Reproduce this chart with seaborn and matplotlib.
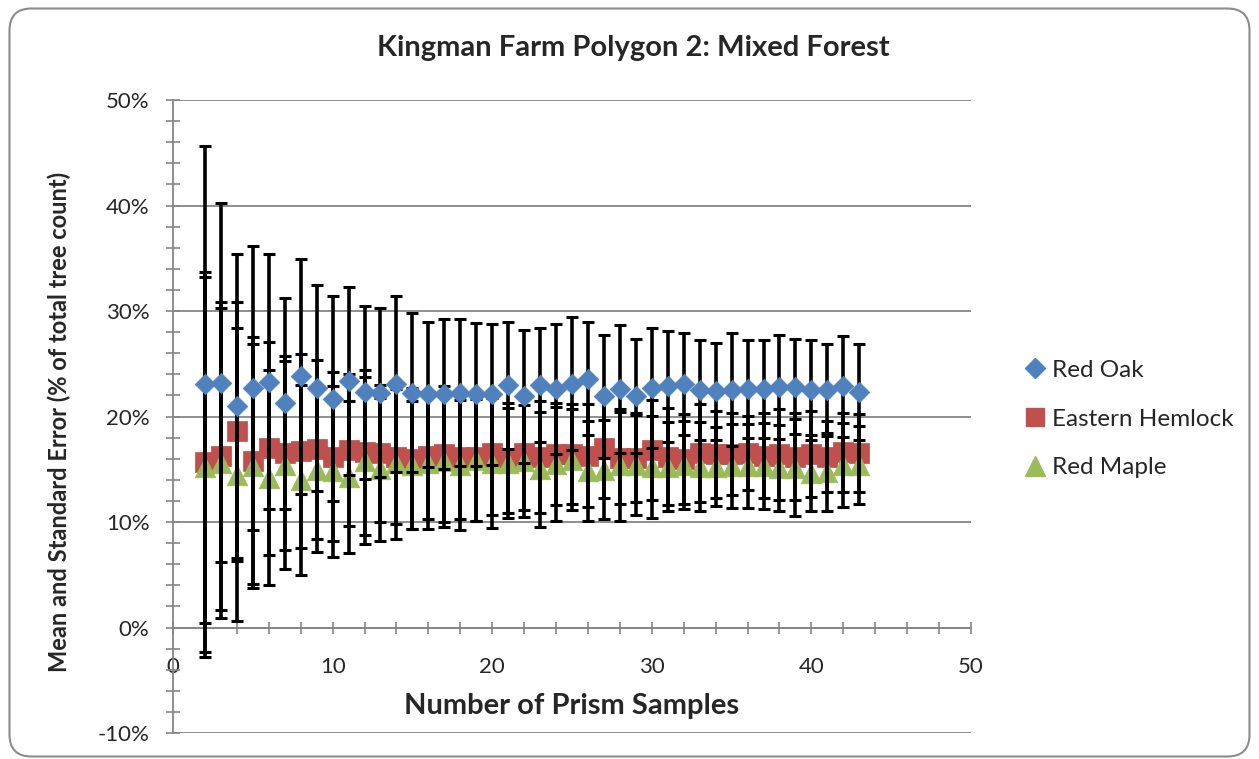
import matplotlib
matplotlib.use("Agg")
import matplotlib.pyplot as plt
import seaborn as sns
from matplotlib.lines import Line2D
from matplotlib.patches import FancyBboxPatch
from matplotlib.transforms import IdentityTransform
from matplotlib.ticker import MultipleLocator, FuncFormatter

# number of prism samples (x)
samples = list(range(2, 44))

# means and standard errors, in % of total tree count
oak_mean = [23.05, 23.2, 21.0, 22.7, 23.3, 21.25, 23.8, 22.7, 21.7, 23.4, 22.3,
            22.25, 23.05, 22.25, 22.1, 22.1, 22.25, 22.1, 22.1, 22.95, 21.9,
            22.95, 22.6, 23.1, 23.6, 21.9, 22.6, 21.9, 22.7, 22.85, 23.05,
            22.5, 22.4, 22.55, 22.6, 22.6, 22.8, 22.8, 22.5, 22.5, 22.85, 22.3]
oak_err = [22.6, 17.0, 14.4, 13.5, 12.1, 10.0, 11.1, 9.8, 9.7, 8.9, 8.2,
           8.0, 8.35, 7.55, 6.9, 7.1, 6.95, 6.8, 6.7, 6.05, 6.3,
           5.4, 6.15, 6.3, 5.4, 5.8, 6.1, 5.4, 5.65, 5.25, 4.85,
           4.75, 4.6, 5.35, 4.65, 4.65, 4.9, 4.5, 4.75, 4.35, 4.75, 4.55]

hemlock_mean = [15.7, 16.3, 18.6, 15.8, 17.0, 16.5, 16.7, 16.9, 16.2, 16.8, 16.6,
                16.5, 16.2, 16.0, 16.3, 16.45, 16.2, 16.2, 16.55, 16.1, 16.5,
                16.2, 16.45, 16.45, 16.3, 17.0, 16.1, 16.1, 16.8, 16.2, 16.0,
                16.5, 16.4, 16.45, 16.55, 16.3, 16.4, 16.2, 16.45, 16.2, 16.6, 16.55]
hemlock_err = [18.0, 14.6, 12.3, 11.7, 10.1, 9.2, 9.2, 8.5, 8.0, 7.2, 7.8,
               6.5, 6.4, 6.7, 6.05, 6.45, 5.9, 6.1, 5.85, 5.2, 5.35,
               5.3, 4.85, 4.7, 4.9, 4.7, 4.35, 4.25, 4.75, 4.6, 4.25,
               4.65, 4.15, 3.85, 3.5, 4.05, 4.35, 4.15, 4.05, 3.4, 3.75, 3.7]

maple_mean = [15.2, 15.6, 14.5, 15.3, 14.2, 15.4, 14.0, 14.9, 14.8, 14.3, 15.8,
              15.0, 15.6, 15.4, 15.6, 15.75, 15.4, 15.9, 15.6, 15.6, 15.8,
              15.0, 15.5, 15.9, 14.85, 14.95, 15.4, 15.4, 15.2, 15.25, 15.4,
              15.25, 15.25, 15.3, 15.3, 15.3, 15.1, 15.15, 14.65, 14.75, 15.4, 15.4]
maple_err = [18.0, 14.7, 13.9, 11.6, 10.2, 9.9, 9.0, 7.7, 8.1, 7.2, 7.9,
             6.8, 7.25, 6.1, 6.3, 6.2, 6.2, 5.8, 6.2, 5.25, 5.3,
             5.45, 5.4, 4.8, 4.75, 4.7, 5.3, 4.75, 4.85, 4.2, 4.2,
             4.25, 3.75, 3.95, 3.95, 4.1, 4.05, 4.6, 3.6, 3.7, 4.0, 3.7]

species = ["Red Oak", "Eastern Hemlock", "Red Maple"]
colors = {"Red Oak": "#4F81BD", "Eastern Hemlock": "#C0504D", "Red Maple": "#9BBB59"}

sns.set_style("white")
plt.rcParams['font.family'] = ['Lato', 'DejaVu Sans']

fig = plt.figure(figsize=(12.59, 7.59), dpi=100)
ax = fig.add_axes([173 / 1259, 26 / 759, 798 / 1259, 633 / 759])

grey = "#868686"

# markers below the error bars for hemlock and maple, oak on top
sns.scatterplot(x=samples, y=hemlock_mean, marker="s", s=200, color=colors["Eastern Hemlock"],
                edgecolor=colors["Eastern Hemlock"], linewidth=0.5, zorder=2, ax=ax, legend=False)
sns.scatterplot(x=samples, y=maple_mean, marker="^", s=220, color=colors["Red Maple"],
                edgecolor=colors["Red Maple"], linewidth=0.5, zorder=2.5, ax=ax, legend=False)

for m, e in [(oak_mean, oak_err), (hemlock_mean, hemlock_err), (maple_mean, maple_err)]:
    ax.errorbar(samples, m, yerr=e, fmt="none", ecolor="black", elinewidth=2.6,
                capsize=4.3, capthick=2.2, zorder=3)

sns.scatterplot(x=samples, y=oak_mean, marker="D", s=110, color=colors["Red Oak"],
                edgecolor=colors["Red Oak"], linewidth=0.5, zorder=4, ax=ax, legend=False)

ax.set_xlim(0, 50)
ax.set_ylim(-10, 50)

ax.xaxis.set_major_locator(MultipleLocator(10))
ax.xaxis.set_minor_locator(MultipleLocator(2))
ax.yaxis.set_major_locator(MultipleLocator(10))
ax.yaxis.set_minor_locator(MultipleLocator(2))
ax.yaxis.set_major_formatter(FuncFormatter(lambda v, p: f"{v:.0f}%"))

ax.grid(axis="y", which="major", color=grey, lw=1.3, zorder=0)
ax.grid(axis="x", visible=False)
ax.set_axisbelow(True)

ax.spines["top"].set_visible(False)
ax.spines["right"].set_visible(False)
ax.spines["bottom"].set_position(("data", 0))
for sp in ["left", "bottom"]:
    ax.spines[sp].set_color(grey)
    ax.spines[sp].set_linewidth(1.3)

ax.tick_params(axis="y", which="both", direction="inout", length=10, width=1.2,
               color=grey, left=True)
ax.tick_params(axis="y", which="major", pad=12, labelsize=16)
ax.tick_params(axis="x", which="both", direction="inout", length=8, width=1.2,
               color=grey, bottom=True)
ax.tick_params(axis="x", which="major", pad=17, labelsize=16)

ax.set_xlabel("Number of Prism Samples", fontsize=21, fontweight="bold")
ax.xaxis.label.set_va("baseline")
ax.xaxis.set_label_coords(0.5, (733 - 714) / 633)
ax.set_ylabel("Mean and Standard Error (% of total tree count)", fontsize=17, fontweight="bold")
ax.yaxis.set_label_coords(-0.128, 0.491)

fig.text(633 / 1259, 1 - 48 / 759, "Kingman Farm Polygon 2: Mixed Forest",
         ha="center", va="center", fontsize=21, fontweight="bold")

handles = [
    Line2D([], [], marker="D", linestyle="none", color=colors["Red Oak"], markersize=10),
    Line2D([], [], marker="s", linestyle="none", color=colors["Eastern Hemlock"], markersize=13),
    Line2D([], [], marker="^", linestyle="none", color=colors["Red Maple"], markersize=14),
]
fig.legend(handles, species, loc="center left", bbox_to_anchor=(1026 / 1259, 1 - 419 / 759),
           frameon=False, fontsize=17.5, handlelength=0.7, handletextpad=0.35,
           labelspacing=1.15, borderpad=0, borderaxespad=0)

border = FancyBboxPatch((9.5, 2.5), 1240, 748, boxstyle="round,pad=0,rounding_size=22",
                        transform=IdentityTransform(), fill=False, ec="#8c8c8c", lw=1.5)
fig.add_artist(border)

fig.savefig("out.png", dpi=100)
